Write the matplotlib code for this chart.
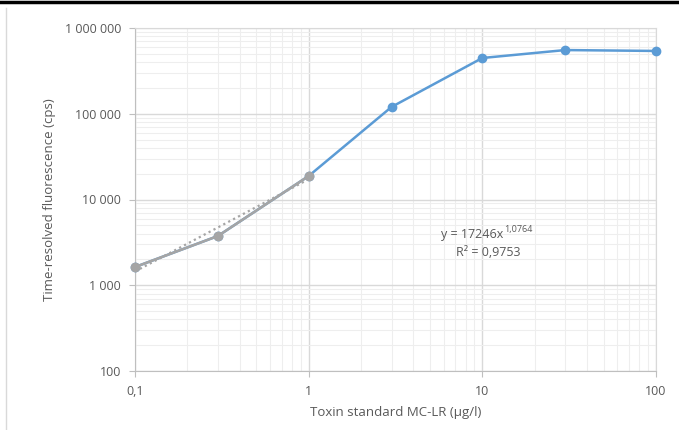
import numpy as np
import matplotlib
matplotlib.use('Agg')
from matplotlib import pyplot as plt
from matplotlib.lines import Line2D
from matplotlib.ticker import FixedLocator, FixedFormatter, LogLocator, NullFormatter

plt.rcParams['font.family'] = ['Open Sans', 'DejaVu Sans']

# data
conc = [0.1, 0.3, 1, 3, 10, 30, 100]
signal = [1630, 3750, 18800, 120000, 447000, 553000, 540000]
lin_conc = [0.1, 0.3, 1]
lin_signal = [1630, 3750, 18800]
fit_a = 17246
fit_b = 1.0764

x_ticks = [0.1, 1, 10, 100]
x_labels = ['0,1', '1', '10', '100']
y_ticks = [100, 1000, 10000, 100000, 1000000]
y_labels = ['100', '1 000', '10 000', '100 000', '1 000 000']

txt = '#595959'
blue = '#5b9bd5'
grey = '#a5a5a5'

fig = plt.figure(figsize=(6.79, 4.30), dpi=100)
ax = fig.add_axes([135/679, 1-371/430, (656-135)/679, (371-28)/430])
ax.set_xscale('log')
ax.set_yscale('log')
ax.set_xlim(0.1, 100)
ax.set_ylim(100, 1000000)

ax.xaxis.set_major_locator(FixedLocator(x_ticks))
ax.xaxis.set_major_formatter(FixedFormatter(x_labels))
ax.yaxis.set_major_locator(FixedLocator(y_ticks))
ax.yaxis.set_major_formatter(FixedFormatter(y_labels))
ax.xaxis.set_minor_locator(LogLocator(base=10, subs=np.arange(2, 10)))
ax.yaxis.set_minor_locator(LogLocator(base=10, subs=np.arange(2, 10)))
ax.xaxis.set_minor_formatter(NullFormatter())
ax.yaxis.set_minor_formatter(NullFormatter())

ax.grid(which='major', color='#d9d9d9', lw=1.0, zorder=0)
ax.grid(which='minor', color='#eeeeee', lw=0.8, zorder=0)
ax.set_axisbelow(True)
for s in ['top', 'right']:
    ax.spines[s].set_color('#d9d9d9')
for s in ['left', 'bottom']:
    ax.spines[s].set_color('#bfbfbf')
ax.tick_params(which='major', length=4, color='#bfbfbf', labelcolor=txt, labelsize=9, pad=6)
ax.tick_params(which='minor', length=0)

ax.plot(conc, signal, color=blue, lw=1.8, marker='o', ms=6, zorder=3, clip_on=False)
ax.plot(lin_conc, lin_signal, color=grey, lw=1.8, marker='o', ms=6, zorder=4, clip_on=False)
xf = np.array([0.1, 1])
ax.plot(xf, fit_a * xf ** fit_b, color=grey, lw=1.6, ls=(0, (1, 1.5)), zorder=5)

# trendline label
fig.text(503/679, 1-234/430, 'y = 17246x', ha='right', va='center', fontsize=9, color=txt)
fig.text(504/679, 1-230/430, '1,0764', ha='left', va='center', fontsize=6.5, color=txt)
fig.text(488/679, 1-252/430, 'R² = 0,9753', ha='center', va='center', fontsize=9, color=txt)

ax.set_xlabel('Toxin standard MC-LR (µg/l)', fontsize=9.5, color=txt, labelpad=6)
ax.set_ylabel('Time-resolved fluorescence (cps)', fontsize=9.5, color=txt, labelpad=6)

fig.add_artist(Line2D([0, 1], [1-1.5/430, 1-1.5/430], color='black', lw=2.5))
fig.add_artist(Line2D([5.5/679, 5.5/679], [0, 1-8/430], color='#d9d9d9', lw=1))

plt.savefig('out.png', dpi=100)
